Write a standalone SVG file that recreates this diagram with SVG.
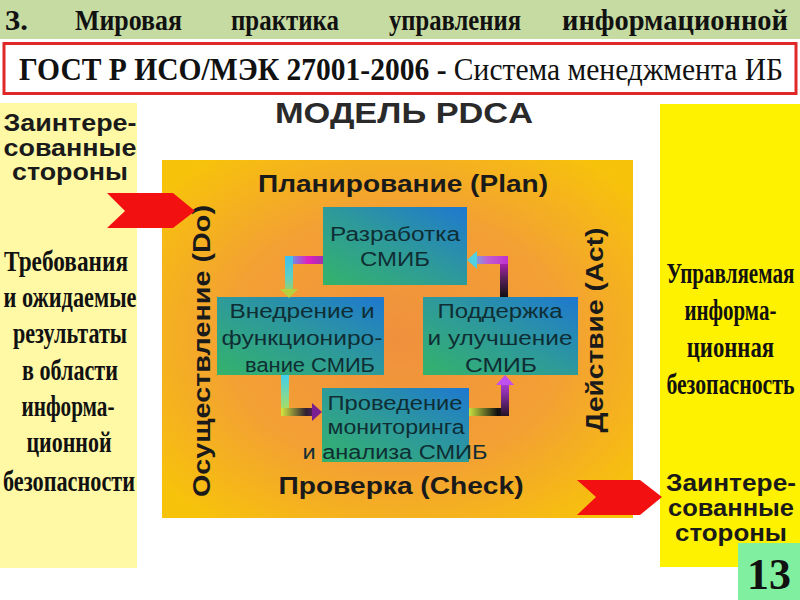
<svg xmlns="http://www.w3.org/2000/svg" width="800" height="600" viewBox="0 0 800 600">
<defs>
  <radialGradient id="gOrange" cx="0.5" cy="0.5" r="0.65">
    <stop offset="0" stop-color="#F0903E"/>
    <stop offset="0.55" stop-color="#F3A034"/>
    <stop offset="1" stop-color="#F7C30A"/>
  </radialGradient>
  <linearGradient id="gBox" x1="0" y1="1" x2="1" y2="0">
    <stop offset="0" stop-color="#34B36A"/>
    <stop offset="0.5" stop-color="#2E9A9A"/>
    <stop offset="1" stop-color="#1E78D0"/>
  </linearGradient>
  <linearGradient id="c1h" x1="323" y1="0" x2="285" y2="0" gradientUnits="userSpaceOnUse">
    <stop offset="0" stop-color="#A030B0"/>
    <stop offset="0.4" stop-color="#E020C0"/>
    <stop offset="1" stop-color="#40C0F0"/>
  </linearGradient>
  <linearGradient id="c1v" x1="0" y1="257" x2="0" y2="298" gradientUnits="userSpaceOnUse">
    <stop offset="0" stop-color="#40C0F0"/>
    <stop offset="0.5" stop-color="#60D0C0"/>
    <stop offset="1" stop-color="#B8D040"/>
  </linearGradient>
  <linearGradient id="c2v" x1="0" y1="375" x2="0" y2="417" gradientUnits="userSpaceOnUse">
    <stop offset="0" stop-color="#40D0F0"/>
    <stop offset="1" stop-color="#C0E040"/>
  </linearGradient>
  <linearGradient id="c2h" x1="282" y1="0" x2="322" y2="0" gradientUnits="userSpaceOnUse">
    <stop offset="0" stop-color="#D0E040"/>
    <stop offset="0.6" stop-color="#302030"/>
    <stop offset="1" stop-color="#7A2090"/>
  </linearGradient>
  <linearGradient id="c3h" x1="469" y1="0" x2="510" y2="0" gradientUnits="userSpaceOnUse">
    <stop offset="0" stop-color="#C8E040"/>
    <stop offset="0.7" stop-color="#101010"/>
    <stop offset="1" stop-color="#301030"/>
  </linearGradient>
  <linearGradient id="c3v" x1="0" y1="417" x2="0" y2="375" gradientUnits="userSpaceOnUse">
    <stop offset="0" stop-color="#201020"/>
    <stop offset="0.6" stop-color="#9030B0"/>
    <stop offset="1" stop-color="#C050F0"/>
  </linearGradient>
  <linearGradient id="c4v" x1="0" y1="297" x2="0" y2="257" gradientUnits="userSpaceOnUse">
    <stop offset="0" stop-color="#101010"/>
    <stop offset="0.5" stop-color="#602060"/>
    <stop offset="1" stop-color="#D020D0"/>
  </linearGradient>
  <linearGradient id="c4h" x1="508" y1="0" x2="467" y2="0" gradientUnits="userSpaceOnUse">
    <stop offset="0" stop-color="#C030D0"/>
    <stop offset="0.5" stop-color="#C060D0"/>
    <stop offset="1" stop-color="#50D0E0"/>
  </linearGradient>
</defs>
<style>
  .ser { font-family: "Liberation Serif", "Times New Roman", serif; font-weight: bold; fill: #111; }
  .box { fill: url(#gBox); }
  .bt { font-family: "Liberation Sans", Arial, sans-serif; font-size: 20px; fill: #0F2E34; text-anchor: middle; }
  .side { font-family: "Liberation Serif", "Times New Roman", serif; font-weight: bold; font-size: 29px; fill: #111; text-anchor: middle; }
  .sider { font-family: "Liberation Serif", "Times New Roman", serif; font-weight: bold; font-size: 26.5px; fill: #111; text-anchor: middle; }
  .party { font-family: "Liberation Sans", Arial, sans-serif; font-weight: bold; font-size: 24px; fill: #1a1a1a; text-anchor: middle; }
  .lab { font-family: "Liberation Sans", Arial, sans-serif; font-weight: bold; font-size: 24px; fill: #1a1a1a; text-anchor: middle; }
</style>

<!-- header -->
<rect x="0" y="0" width="800" height="39" fill="#C6DBA2"/>
<g class="ser" font-size="30">
  <text x="5" y="30" textLength="23" lengthAdjust="spacingAndGlyphs">3.</text>
  <text x="75" y="30" textLength="107" lengthAdjust="spacingAndGlyphs">Мировая</text>
  <text x="231" y="30" textLength="108" lengthAdjust="spacingAndGlyphs">практика</text>
  <text x="389" y="30" textLength="132" lengthAdjust="spacingAndGlyphs">управления</text>
  <text x="562" y="30" textLength="226" lengthAdjust="spacingAndGlyphs">информационной</text>
</g>
<rect x="4" y="43.5" width="792" height="50" fill="#ffffff" stroke="#E02828" stroke-width="3"/>
<text x="19" y="80" font-family="'Liberation Serif', 'Times New Roman', serif" font-size="31" fill="#111" textLength="764" lengthAdjust="spacingAndGlyphs"><tspan font-weight="bold">ГОСТ Р ИСО/МЭК 27001-2006 -</tspan> Система менеджмента ИБ</text>

<text x="404" y="123" font-family="'Liberation Sans', Arial, sans-serif" font-weight="900" font-size="29" fill="#2a2a2a" text-anchor="middle" textLength="258" lengthAdjust="spacingAndGlyphs">МОДЕЛЬ PDCA</text>

<!-- left panel -->
<g id="left-panel">
  <rect x="0" y="103" width="137" height="465" fill="#FFF9A6"/>
  <text class="party" x="70" y="131" textLength="133" lengthAdjust="spacingAndGlyphs">Заинтере-</text>
  <text class="party" x="70" y="155.5" textLength="133" lengthAdjust="spacingAndGlyphs">сованные</text>
  <text class="party" x="70" y="180" textLength="116" lengthAdjust="spacingAndGlyphs">стороны</text>
  <text class="side" x="66" y="271" textLength="124" lengthAdjust="spacingAndGlyphs">Требования</text>
  <text class="side" x="70" y="307" textLength="133" lengthAdjust="spacingAndGlyphs">и ожидаемые</text>
  <text class="side" x="70" y="343" textLength="114" lengthAdjust="spacingAndGlyphs">результаты</text>
  <text class="side" x="70" y="380" textLength="96" lengthAdjust="spacingAndGlyphs">в области</text>
  <text class="side" x="68" y="416" textLength="93" lengthAdjust="spacingAndGlyphs">информа-</text>
  <text class="side" x="69" y="452" textLength="85" lengthAdjust="spacingAndGlyphs">ционной</text>
  <text class="side" x="69" y="491" textLength="132" lengthAdjust="spacingAndGlyphs">безопасности</text>
</g>

<!-- right panel -->
<g id="right-panel">
  <rect x="660" y="104" width="140" height="463" fill="#FFF200"/>
  <g transform="scale(0.8,1.1)">
    <text class="sider" x="913" y="257.3" textLength="160" lengthAdjust="spacingAndGlyphs">Управляемая</text>
    <text class="sider" x="913" y="290.9" textLength="115" lengthAdjust="spacingAndGlyphs">информа-</text>
    <text class="sider" x="913" y="324.5" textLength="109" lengthAdjust="spacingAndGlyphs">ционная</text>
    <text class="sider" x="913" y="358.2" textLength="160" lengthAdjust="spacingAndGlyphs">безопасность</text>
  </g>
  <text class="party" x="731" y="491" textLength="130" lengthAdjust="spacingAndGlyphs">Заинтере-</text>
  <text class="party" x="731" y="516" textLength="126" lengthAdjust="spacingAndGlyphs">сованные</text>
  <text class="party" x="731" y="541" textLength="112" lengthAdjust="spacingAndGlyphs">стороны</text>
</g>

<!-- main PDCA area -->
<g id="pdca">
  <rect x="162" y="160" width="471" height="358" fill="url(#gOrange)"/>
  <text class="lab" x="403" y="192" textLength="290" lengthAdjust="spacingAndGlyphs">Планирование (Plan)</text>
  <text class="lab" x="401" y="494" textLength="245" lengthAdjust="spacingAndGlyphs">Проверка (Check)</text>
  <text class="lab" transform="translate(210,351) rotate(-90)" x="0" y="0" textLength="292" lengthAdjust="spacingAndGlyphs">Осуществление (Do)</text>
  <text class="lab" transform="translate(603,330) rotate(-90)" x="0" y="0" textLength="205" lengthAdjust="spacingAndGlyphs">Действие (Act)</text>
</g>

<!-- input/output arrows -->
<g id="arrow-in">
  <polygon points="107,193 173,193 195,211 173,228 107,228 125,211" fill="#F21010"/>
</g>
<g id="arrow-out">
  <polygon points="577,480 640,480 662,497 640,515 577,515 596,497" fill="#F21010"/>
</g>

<!-- nodes -->
<g id="plan">
  <rect class="box" x="323" y="207" width="144" height="78"/>
  <text class="bt" x="395" y="241" textLength="130" lengthAdjust="spacingAndGlyphs">Разработка</text>
  <text class="bt" x="395" y="266" textLength="70" lengthAdjust="spacingAndGlyphs">СМИБ</text>
</g>
<g id="do">
  <rect class="box" x="217" y="297" width="167" height="78"/>
  <text class="bt" x="302" y="318" textLength="145" lengthAdjust="spacingAndGlyphs">Внедрение и</text>
  <text class="bt" x="302" y="345" textLength="161" lengthAdjust="spacingAndGlyphs">функциониро-</text>
  <text class="bt" x="310" y="372" textLength="130" lengthAdjust="spacingAndGlyphs">вание СМИБ</text>
</g>
<g id="act">
  <rect class="box" x="423" y="297" width="155" height="78"/>
  <text class="bt" x="500" y="318" textLength="125" lengthAdjust="spacingAndGlyphs">Поддержка</text>
  <text class="bt" x="500" y="345" textLength="145" lengthAdjust="spacingAndGlyphs">и улучшение</text>
  <text class="bt" x="501" y="372" textLength="72" lengthAdjust="spacingAndGlyphs">СМИБ</text>
</g>
<g id="check">
  <rect class="box" x="322" y="388" width="147" height="74"/>
  <text class="bt" x="395" y="410" textLength="135" lengthAdjust="spacingAndGlyphs">Проведение</text>
  <text class="bt" x="396" y="434" textLength="137" lengthAdjust="spacingAndGlyphs">мониторинга</text>
  <text class="bt" x="395" y="459" textLength="185" lengthAdjust="spacingAndGlyphs">и анализа СМИБ</text>
</g>

<!-- connectors -->
<g id="connectors" fill="none" stroke-width="8">
  <path d="M323,260 H289" stroke="url(#c1h)"/>
  <path d="M289,256 V290" stroke="url(#c1v)"/>
  <polygon points="280,289 298,289 289,298" fill="#B8D040" stroke="none"/>

  <path d="M285,375 V412" stroke="url(#c2v)"/>
  <path d="M281,412 H313" stroke="url(#c2h)"/>
  <polygon points="312,403 312,421 322,412" fill="#7A2090" stroke="none"/>

  <path d="M469,412 H505" stroke="url(#c3h)"/>
  <path d="M505,416 V384" stroke="url(#c3v)"/>
  <polygon points="496,385 514,385 505,375" fill="#C050F0" stroke="none"/>

  <path d="M504,297 V260" stroke="url(#c4v)"/>
  <path d="M508,260 H476" stroke="url(#c4h)"/>
  <polygon points="477,251 477,269 467,260" fill="#50D0E0" stroke="none"/>
</g>

<!-- page number -->
<g id="page-number">
  <rect x="738" y="543" width="62" height="57" fill="#80F0A0"/>
  <text x="769" y="589" font-family="'Liberation Serif', 'Times New Roman', serif" font-weight="bold" font-size="44" fill="#111" text-anchor="middle">13</text>
</g>
</svg>
